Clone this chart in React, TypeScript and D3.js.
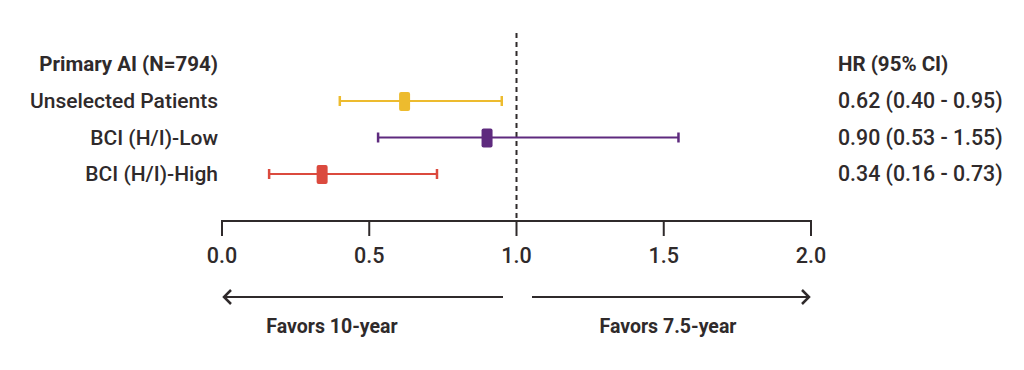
import React from "react";
import * as d3 from "d3";

const groups = ["Unselected Patients", "BCI (H/I)-Low", "BCI (H/I)-High"];
const hr = [0.62, 0.9, 0.34];
const lower = [0.4, 0.53, 0.16];
const upper = [0.95, 1.55, 0.73];
const hrLabels = ["0.62 (0.40 - 0.95)", "0.90 (0.53 - 1.55)", "0.34 (0.16 - 0.73)"];
const colors = ["#EDBB2E", "#5E2A7E", "#DB4A3E"];
const ticks = [0, 0.5, 1, 1.5, 2];
const headerLeft = "Primary AI (N=794)";
const headerRight = "HR (95% CI)";
const favorsLeft = "Favors 10-year";
const favorsRight = "Favors 7.5-year";

const W = 1024;
const H = 370;
const ink = "#2f2a2b";
const font = "Roboto, 'Noto Sans', sans-serif";

export default function App() {
  const x = d3.scaleLinear().domain([0, 2]).range([222, 811]);
  const y = d3.scalePoint<string>().domain(groups).range([101, 174]);
  const axisY = 221;
  const arrowY = 297;

  return (
    <svg
      width={W}
      height={H}
      style={{ position: "absolute", left: 0, top: 0, background: "#fff" }}
      fontFamily={font}
    >
      <rect width={W} height={H} fill="#fff" />
      {/* headers */}
      <text x={218} y={71} textAnchor="end" fontSize={20.5} fontWeight={700} fill={ink}>
        {headerLeft}
      </text>
      <text x={838} y={71} textAnchor="start" fontSize={20.5} fontWeight={700} fill={ink}>
        {headerRight}
      </text>
      {/* reference line */}
      <line
        x1={x(1)}
        x2={x(1)}
        y1={33}
        y2={axisY}
        stroke={ink}
        strokeWidth={2}
        strokeDasharray="5,4"
      />
      {groups.map((g, i) => {
        const cy = y(g)!;
        return (
          <g key={g}>
            <text x={218} y={cy + 7} textAnchor="end" fontSize={21} fontWeight={500} fill={ink}>
              {g}
            </text>
            <line x1={x(lower[i])} x2={x(upper[i])} y1={cy} y2={cy} stroke={colors[i]} strokeWidth={2} />
            <line x1={x(lower[i])} x2={x(lower[i])} y1={cy - 5} y2={cy + 5} stroke={colors[i]} strokeWidth={2.5} />
            <line x1={x(upper[i])} x2={x(upper[i])} y1={cy - 5} y2={cy + 5} stroke={colors[i]} strokeWidth={2.5} />
            <rect x={x(hr[i]) - 5.5} y={cy - 9} width={11} height={19} rx={2} fill={colors[i]} />
            <text x={838} y={cy + 7} textAnchor="start" fontSize={21.3} fontWeight={500} fill={ink}>
              {hrLabels[i]}
            </text>
          </g>
        );
      })}
      {/* axis */}
      <line x1={x(0)} x2={x(2)} y1={axisY} y2={axisY} stroke={ink} strokeWidth={2} />
      {ticks.map((t) => (
        <g key={t}>
          <line x1={x(t)} x2={x(t)} y1={axisY - 1} y2={axisY + 15} stroke={ink} strokeWidth={2} />
          <text x={x(t)} y={263} textAnchor="middle" fontSize={21.5} fontWeight={500} fill={ink}>
            {d3.format(".1f")(t)}
          </text>
        </g>
      ))}
      {/* arrows */}
      <line x1={x(0) + 2} x2={503} y1={arrowY} y2={arrowY} stroke={ink} strokeWidth={2} />
      <polyline
        points={`${x(0) + 9},${arrowY - 7} ${x(0) + 2},${arrowY} ${x(0) + 9},${arrowY + 7}`}
        fill="none"
        stroke={ink}
        strokeWidth={2.5}
      />
      <line x1={532} x2={x(2) - 2} y1={arrowY} y2={arrowY} stroke={ink} strokeWidth={2} />
      <polyline
        points={`${x(2) - 9},${arrowY - 7} ${x(2) - 2},${arrowY} ${x(2) - 9},${arrowY + 7}`}
        fill="none"
        stroke={ink}
        strokeWidth={2.5}
      />
      <text x={332} y={333} textAnchor="middle" fontSize={19.5} fontWeight={700} fill={ink}>
        {favorsLeft}
      </text>
      <text x={668} y={333} textAnchor="middle" fontSize={19.5} fontWeight={700} fill={ink}>
        {favorsRight}
      </text>
    </svg>
  );
}
